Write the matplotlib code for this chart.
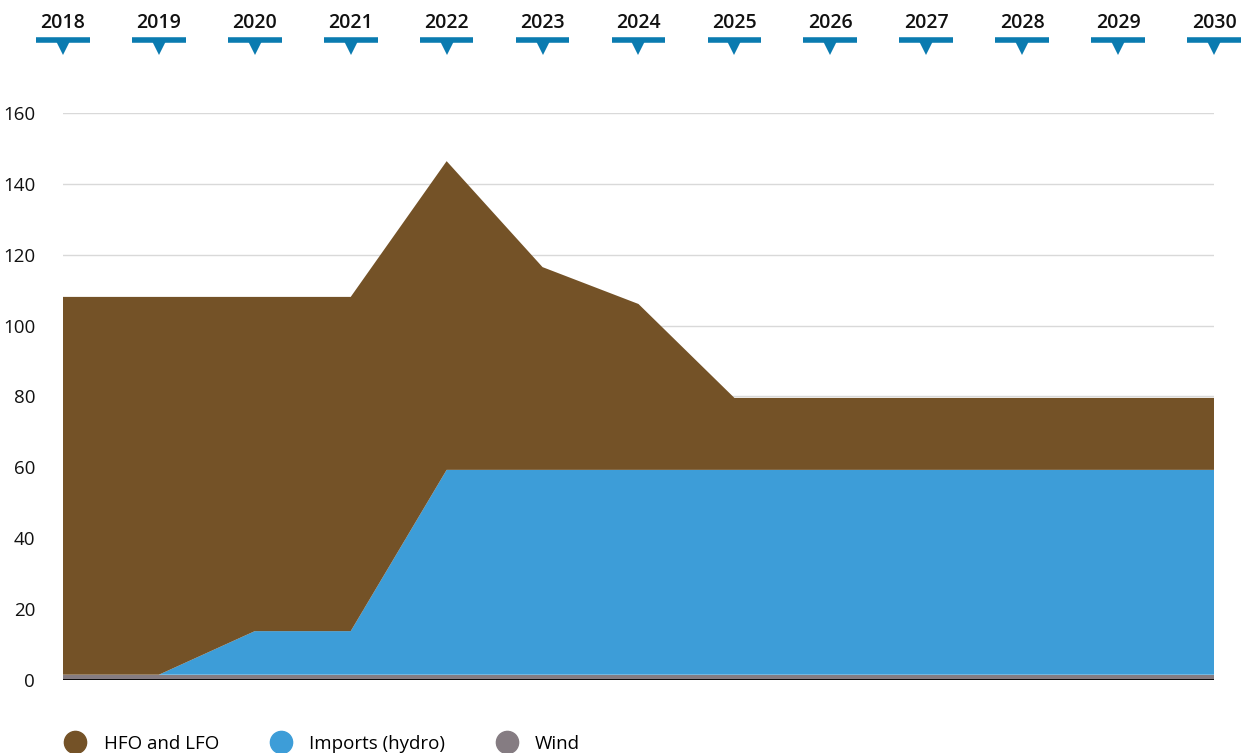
import matplotlib.pyplot as plt
from matplotlib.transforms import blended_transform_factory
from matplotlib.lines import Line2D

plt.rcParams['font.family'] = ['Open Sans', 'DejaVu Sans']

years = [2018, 2019, 2020, 2021, 2022, 2023, 2024, 2025, 2026, 2027, 2028, 2029, 2030]
wind = [1.5] * 13
imports = [0, 0, 12.3, 12.3, 57.8, 57.8, 57.8, 57.8, 57.8, 57.8, 57.8, 57.8, 57.8]
hfo = [106.6, 106.6, 94.3, 94.3, 87.1, 57.2, 46.8, 20.3, 20.3, 20.3, 20.3, 20.3, 20.3]
series_names = ["HFO and LFO", "Imports (hydro)", "Wind"]
yticks = [0, 20, 40, 60, 80, 100, 120, 140, 160]

c_hfo = "#745227"
c_imp = "#3d9dd8"
c_wind = "#857c82"
c_top = "#0a7bb0"

fig = plt.figure(figsize=(12.44, 7.53), dpi=100)
ax = fig.add_axes([0.0506, 0.0969, 0.9253, 0.7531])

ax.stackplot(years, wind, imports, hfo, colors=[c_wind, c_imp, c_hfo], linewidth=0)
ax.set_xlim(years[0], years[-1])
ax.set_ylim(0, 160)
ax.set_yticks(yticks)
ax.set_yticklabels([str(t) for t in yticks], fontsize=13.5, color="#111111")
ax.set_xticks([])
ax.tick_params(axis="y", length=0, pad=20)
for s in ax.spines.values():
    s.set_visible(False)
ax.grid(axis="y", color="#d9d9d9", linewidth=1)
ax.set_axisbelow(True)
ax.axhline(0, color="black", linewidth=2, zorder=5)

# year labels along the top
trans = blended_transform_factory(ax.transData, fig.transFigure)
for yr in years:
    ax.text(yr, 0.970, str(yr), transform=trans, ha="center", va="center",
            fontsize=14, fontweight="semibold", color="#111111")
    ax.plot([yr - 0.28, yr + 0.28], [0.9475, 0.9475], transform=trans, color=c_top,
            linewidth=4, solid_capstyle="butt", clip_on=False)
    ax.plot([yr], [0.937], transform=trans, marker="v", markersize=11, color=c_top,
            markeredgewidth=0, clip_on=False)

handles = [Line2D([], [], marker="o", linestyle="none", markersize=16, color=c)
           for c in [c_hfo, c_imp, c_wind]]
fig.legend(handles, series_names, loc="lower left", bbox_to_anchor=(0.032, -0.022),
           ncol=3, frameon=False, fontsize=13.5, handletextpad=0.5, columnspacing=2.3)

fig.savefig("out.png", dpi=100)
